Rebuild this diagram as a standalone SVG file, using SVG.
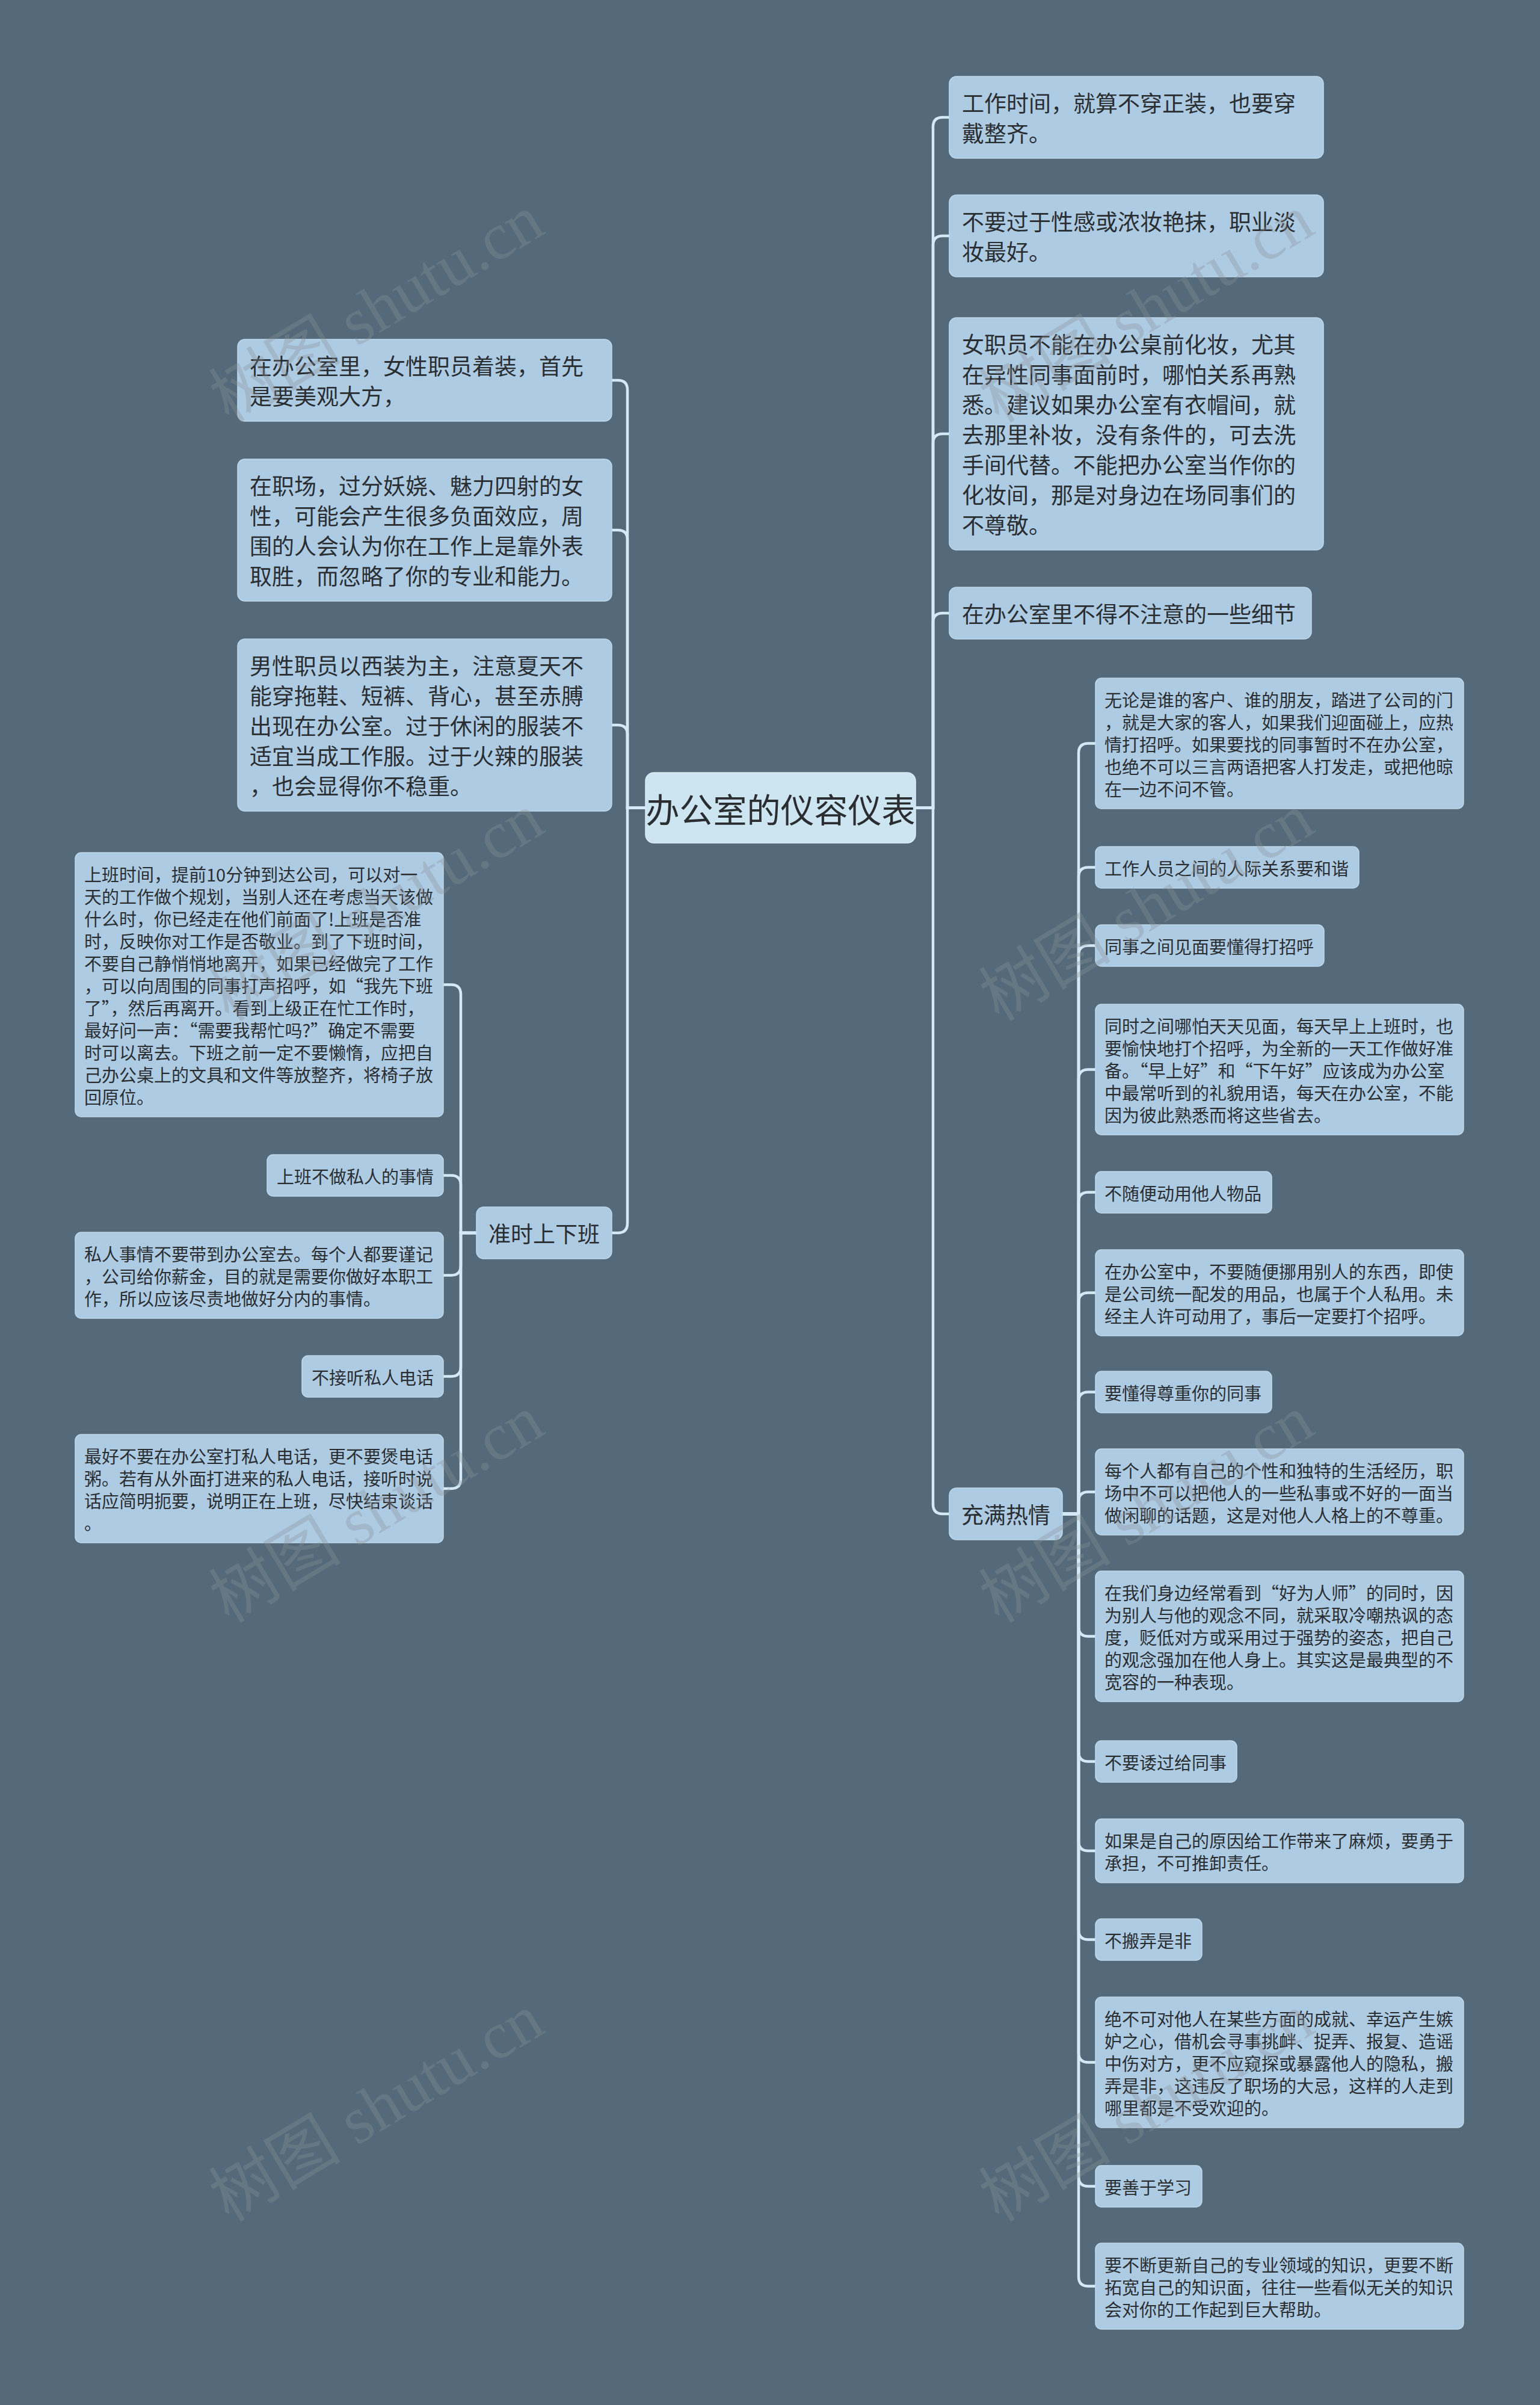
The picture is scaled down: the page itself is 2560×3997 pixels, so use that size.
<svg xmlns="http://www.w3.org/2000/svg" width="2560" height="3997" viewBox="0 0 2560 3997">
<style>
.bg{fill:#546a7b}
.node rect{fill:#adcbe3;stroke:#bfd8ea;stroke-width:1.5}
.root rect{fill:#cde4f1;stroke:#dcecf6;stroke-width:1.5}
text{fill:#2b2e31;font-family:"Noto Sans CJK SC","Liberation Sans",sans-serif;dominant-baseline:central}
.t0{font-size:56px;text-anchor:middle}
.t1{font-size:37px}
.t2{font-size:29px}
.links path{fill:none;stroke:#d3e9f5;stroke-width:4.5}
.wm{font-family:"Liberation Serif","Noto Sans CJK SC",serif;font-size:110px;fill:#8d9398;opacity:0.33;text-anchor:middle;dominant-baseline:auto}
</style>
<rect class="bg" x="0" y="0" width="2560" height="3997"/>

<g id="connectors" class="links">
<path d="M1522,1342.5 H1551 V211 Q1551,195 1567,195 H1578"/>
<path d="M1522,1342.5 H1551 V408 Q1551,392 1567,392 H1578"/>
<path d="M1522,1342.5 H1551 V737 Q1551,721 1567,721 H1578"/>
<path d="M1522,1342.5 H1551 V1035 Q1551,1019 1567,1019 H1578"/>
<path d="M1522,1342.5 H1551 V2500 Q1551,2516 1567,2516 H1578"/>
<path d="M1073,1342.5 H1043 V648 Q1043,632 1027,632 H1017"/>
<path d="M1073,1342.5 H1043 V897 Q1043,881 1027,881 H1017"/>
<path d="M1073,1342.5 H1043 V1221 Q1043,1205 1027,1205 H1017"/>
<path d="M1073,1342.5 H1043 V2033 Q1043,2049 1027,2049 H1017"/>
<path d="M792,2049 H766 V1652.5 Q766,1636.5 750,1636.5 H737"/>
<path d="M792,2049 H766 V1969.5 Q766,1953.5 750,1953.5 H737"/>
<path d="M792,2049 H766 V2103.5 Q766,2119.5 750,2119.5 H737"/>
<path d="M792,2049 H766 V2271.5 Q766,2287.5 750,2287.5 H737"/>
<path d="M792,2049 H766 V2458 Q766,2474 750,2474 H737"/>
<path d="M1766,2516 H1793 V1251.5 Q1793,1235.5 1809,1235.5 H1821"/>
<path d="M1766,2516 H1793 V1457.5 Q1793,1441.5 1809,1441.5 H1821"/>
<path d="M1766,2516 H1793 V1587.5 Q1793,1571.5 1809,1571.5 H1821"/>
<path d="M1766,2516 H1793 V1793.5 Q1793,1777.5 1809,1777.5 H1821"/>
<path d="M1766,2516 H1793 V1997.5 Q1793,1981.5 1809,1981.5 H1821"/>
<path d="M1766,2516 H1793 V2164.5 Q1793,2148.5 1809,2148.5 H1821"/>
<path d="M1766,2516 H1793 V2329.5 Q1793,2313.5 1809,2313.5 H1821"/>
<path d="M1766,2516 H1793 V2495.5 Q1793,2479.5 1809,2479.5 H1821"/>
<path d="M1766,2516 H1793 V2703.5 Q1793,2719.5 1809,2719.5 H1821"/>
<path d="M1766,2516 H1793 V2911.5 Q1793,2927.5 1809,2927.5 H1821"/>
<path d="M1766,2516 H1793 V3060 Q1793,3076 1809,3076 H1821"/>
<path d="M1766,2516 H1793 V3207.5 Q1793,3223.5 1809,3223.5 H1821"/>
<path d="M1766,2516 H1793 V3411.5 Q1793,3427.5 1809,3427.5 H1821"/>
<path d="M1766,2516 H1793 V3617.5 Q1793,3633.5 1809,3633.5 H1821"/>
<path d="M1766,2516 H1793 V3783.5 Q1793,3799.5 1809,3799.5 H1821"/>
</g>

<g id="root" class="root">
<rect x="1073" y="1284" width="449" height="117" rx="14"/>
<text class="t0" x="1297.5" y="1342.5">办公室的仪容仪表</text>
</g>

<g id="r1" class="node"><rect x="1578" y="127" width="622" height="136" rx="12"/>
<text class="t1"><tspan x="1599" y="170">工作时间，就算不穿正装，也要穿</tspan><tspan x="1599" y="220">戴整齐。</tspan></text></g>
<g id="r2" class="node"><rect x="1578" y="324" width="622" height="136" rx="12"/>
<text class="t1"><tspan x="1599" y="367">不要过于性感或浓妆艳抹，职业淡</tspan><tspan x="1599" y="417">妆最好。</tspan></text></g>
<g id="r3" class="node"><rect x="1578" y="528" width="622" height="386" rx="12"/>
<text class="t1"><tspan x="1599" y="571">女职员不能在办公桌前化妆，尤其</tspan><tspan x="1599" y="621">在异性同事面前时，哪怕关系再熟</tspan><tspan x="1599" y="671">悉。建议如果办公室有衣帽间，就</tspan><tspan x="1599" y="721">去那里补妆，没有条件的，可去洗</tspan><tspan x="1599" y="771">手间代替。不能把办公室当作你的</tspan><tspan x="1599" y="821">化妆间，那是对身边在场同事们的</tspan><tspan x="1599" y="871">不尊敬。</tspan></text></g>
<g id="r4" class="node"><rect x="1578" y="976" width="602" height="86" rx="12"/>
<text class="t1" x="1599" y="1019">在办公室里不得不注意的一些细节</text></g>
<g id="r5" class="node"><rect x="1578" y="2473" width="188" height="86" rx="12"/>
<text class="t1" x="1598" y="2516">充满热情</text></g>

<g id="l1" class="node"><rect x="395" y="564" width="622" height="136" rx="12"/>
<text class="t1"><tspan x="415" y="607">在办公室里，女性职员着装，首先</tspan><tspan x="415" y="657">是要美观大方，</tspan></text></g>
<g id="l2" class="node"><rect x="395" y="763" width="622" height="236" rx="12"/>
<text class="t1"><tspan x="415" y="806">在职场，过分妖娆、魅力四射的女</tspan><tspan x="415" y="856">性，可能会产生很多负面效应，周</tspan><tspan x="415" y="906">围的人会认为你在工作上是靠外表</tspan><tspan x="415" y="956">取胜，而忽略了你的专业和能力。</tspan></text></g>
<g id="l3" class="node"><rect x="395" y="1062" width="622" height="286" rx="12"/>
<text class="t1"><tspan x="415" y="1105">男性职员以西装为主，注意夏天不</tspan><tspan x="415" y="1155">能穿拖鞋、短裤、背心，甚至赤膊</tspan><tspan x="415" y="1205">出现在办公室。过于休闲的服装不</tspan><tspan x="415" y="1255">适宜当成工作服。过于火辣的服装</tspan><tspan x="415" y="1305">，也会显得你不稳重。</tspan></text></g>
<g id="l4" class="node"><rect x="792" y="2006" width="225" height="86" rx="12"/>
<text class="t1" x="812" y="2049">准时上下班</text></g>

<g id="a1" class="node"><rect x="125" y="1417" width="612" height="439" rx="10"/>
<text class="t2"><tspan x="140" y="1451.5">上班时间，提前10分钟到达公司，可以对一</tspan><tspan x="140" y="1488.5">天的工作做个规划，当别人还在考虑当天该做</tspan><tspan x="140" y="1525.5">什么时，你已经走在他们前面了!上班是否准</tspan><tspan x="140" y="1562.5">时，反映你对工作是否敬业。到了下班时间，</tspan><tspan x="140" y="1599.5">不要自己静悄悄地离开，如果已经做完了工作</tspan><tspan x="140" y="1636.5">，可以向周围的同事打声招呼，如“我先下班</tspan><tspan x="140" y="1673.5">了”，然后再离开。看到上级正在忙工作时，</tspan><tspan x="140" y="1710.5">最好问一声：“需要我帮忙吗?”确定不需要</tspan><tspan x="140" y="1747.5">时可以离去。下班之前一定不要懒惰，应把自</tspan><tspan x="140" y="1784.5">己办公桌上的文具和文件等放整齐，将椅子放</tspan><tspan x="140" y="1821.5">回原位。</tspan></text></g>
<g id="a2" class="node"><rect x="444" y="1919" width="293" height="69" rx="10"/>
<text class="t2" x="460" y="1953.5">上班不做私人的事情</text></g>
<g id="a3" class="node"><rect x="125" y="2048" width="612" height="143" rx="10"/>
<text class="t2"><tspan x="140" y="2082.5">私人事情不要带到办公室去。每个人都要谨记</tspan><tspan x="140" y="2119.5">，公司给你薪金，目的就是需要你做好本职工</tspan><tspan x="140" y="2156.5">作，所以应该尽责地做好分内的事情。</tspan></text></g>
<g id="a4" class="node"><rect x="502" y="2253" width="235" height="69" rx="10"/>
<text class="t2" x="518" y="2287.5">不接听私人电话</text></g>
<g id="a5" class="node"><rect x="125" y="2384" width="612" height="180" rx="10"/>
<text class="t2"><tspan x="140" y="2418.5">最好不要在办公室打私人电话，更不要煲电话</tspan><tspan x="140" y="2455.5">粥。若有从外面打进来的私人电话，接听时说</tspan><tspan x="140" y="2492.5">话应简明扼要，说明正在上班，尽快结束谈话</tspan><tspan x="140" y="2529.5">。</tspan></text></g>

<g id="b1" class="node"><rect x="1821" y="1127" width="612" height="217" rx="10"/>
<text class="t2"><tspan x="1836" y="1161.5">无论是谁的客户、谁的朋友，踏进了公司的门</tspan><tspan x="1836" y="1198.5">，就是大家的客人，如果我们迎面碰上，应热</tspan><tspan x="1836" y="1235.5">情打招呼。如果要找的同事暂时不在办公室，</tspan><tspan x="1836" y="1272.5">也绝不可以三言两语把客人打发走，或把他晾</tspan><tspan x="1836" y="1309.5">在一边不问不管。</tspan></text></g>
<g id="b2" class="node"><rect x="1821" y="1407" width="438" height="69" rx="10"/>
<text class="t2" x="1836" y="1441.5">工作人员之间的人际关系要和谐</text></g>
<g id="b3" class="node"><rect x="1821" y="1537" width="380" height="69" rx="10"/>
<text class="t2" x="1836" y="1571.5">同事之间见面要懂得打招呼</text></g>
<g id="b4" class="node"><rect x="1821" y="1669" width="612" height="217" rx="10"/>
<text class="t2"><tspan x="1836" y="1703.5">同时之间哪怕天天见面，每天早上上班时，也</tspan><tspan x="1836" y="1740.5">要愉快地打个招呼，为全新的一天工作做好准</tspan><tspan x="1836" y="1777.5">备。“早上好”和“下午好”应该成为办公室</tspan><tspan x="1836" y="1814.5">中最常听到的礼貌用语，每天在办公室，不能</tspan><tspan x="1836" y="1851.5">因为彼此熟悉而将这些省去。</tspan></text></g>
<g id="b5" class="node"><rect x="1821" y="1947" width="293" height="69" rx="10"/>
<text class="t2" x="1836" y="1981.5">不随便动用他人物品</text></g>
<g id="b6" class="node"><rect x="1821" y="2077" width="612" height="143" rx="10"/>
<text class="t2"><tspan x="1836" y="2111.5">在办公室中，不要随便挪用别人的东西，即使</tspan><tspan x="1836" y="2148.5">是公司统一配发的用品，也属于个人私用。未</tspan><tspan x="1836" y="2185.5">经主人许可动用了，事后一定要打个招呼。</tspan></text></g>
<g id="b7" class="node"><rect x="1821" y="2279" width="293" height="69" rx="10"/>
<text class="t2" x="1836" y="2313.5">要懂得尊重你的同事</text></g>
<g id="b8" class="node"><rect x="1821" y="2408" width="612" height="143" rx="10"/>
<text class="t2"><tspan x="1836" y="2442.5">每个人都有自己的个性和独特的生活经历，职</tspan><tspan x="1836" y="2479.5">场中不可以把他人的一些私事或不好的一面当</tspan><tspan x="1836" y="2516.5">做闲聊的话题，这是对他人人格上的不尊重。</tspan></text></g>
<g id="b9" class="node"><rect x="1821" y="2611" width="612" height="217" rx="10"/>
<text class="t2"><tspan x="1836" y="2645.5">在我们身边经常看到“好为人师”的同时，因</tspan><tspan x="1836" y="2682.5">为别人与他的观念不同，就采取冷嘲热讽的态</tspan><tspan x="1836" y="2719.5">度，贬低对方或采用过于强势的姿态，把自己</tspan><tspan x="1836" y="2756.5">的观念强加在他人身上。其实这是最典型的不</tspan><tspan x="1836" y="2793.5">宽容的一种表现。</tspan></text></g>
<g id="b10" class="node"><rect x="1821" y="2893" width="235" height="69" rx="10"/>
<text class="t2" x="1836" y="2927.5">不要诿过给同事</text></g>
<g id="b11" class="node"><rect x="1821" y="3023" width="612" height="106" rx="10"/>
<text class="t2"><tspan x="1836" y="3057.5">如果是自己的原因给工作带来了麻烦，要勇于</tspan><tspan x="1836" y="3094.5">承担，不可推卸责任。</tspan></text></g>
<g id="b12" class="node"><rect x="1821" y="3189" width="177" height="69" rx="10"/>
<text class="t2" x="1836" y="3223.5">不搬弄是非</text></g>
<g id="b13" class="node"><rect x="1821" y="3319" width="612" height="217" rx="10"/>
<text class="t2"><tspan x="1836" y="3353.5">绝不可对他人在某些方面的成就、幸运产生嫉</tspan><tspan x="1836" y="3390.5">妒之心，借机会寻事挑衅、捉弄、报复、造谣</tspan><tspan x="1836" y="3427.5">中伤对方，更不应窥探或暴露他人的隐私，搬</tspan><tspan x="1836" y="3464.5">弄是非，这违反了职场的大忌，这样的人走到</tspan><tspan x="1836" y="3501.5">哪里都是不受欢迎的。</tspan></text></g>
<g id="b14" class="node"><rect x="1821" y="3599" width="177" height="69" rx="10"/>
<text class="t2" x="1836" y="3633.5">要善于学习</text></g>
<g id="b15" class="node"><rect x="1821" y="3728" width="612" height="143" rx="10"/>
<text class="t2"><tspan x="1836" y="3762.5">要不断更新自己的专业领域的知识，更要不断</tspan><tspan x="1836" y="3799.5">拓宽自己的知识面，往往一些看似无关的知识</tspan><tspan x="1836" y="3836.5">会对你的工作起到巨大帮助。</tspan></text></g>

<g id="watermarks">
<text class="wm" transform="translate(645,545) rotate(-31)">树图 shutu.cn</text>
<text class="wm" transform="translate(1925,545) rotate(-31)">树图 shutu.cn</text>
<text class="wm" transform="translate(645,1540) rotate(-31)">树图 shutu.cn</text>
<text class="wm" transform="translate(1925,1540) rotate(-31)">树图 shutu.cn</text>
<text class="wm" transform="translate(645,2540) rotate(-31)">树图 shutu.cn</text>
<text class="wm" transform="translate(1925,2540) rotate(-31)">树图 shutu.cn</text>
<text class="wm" transform="translate(645,3535) rotate(-31)">树图 shutu.cn</text>
<text class="wm" transform="translate(1925,3535) rotate(-31)">树图 shutu.cn</text>
</g>
</svg>
